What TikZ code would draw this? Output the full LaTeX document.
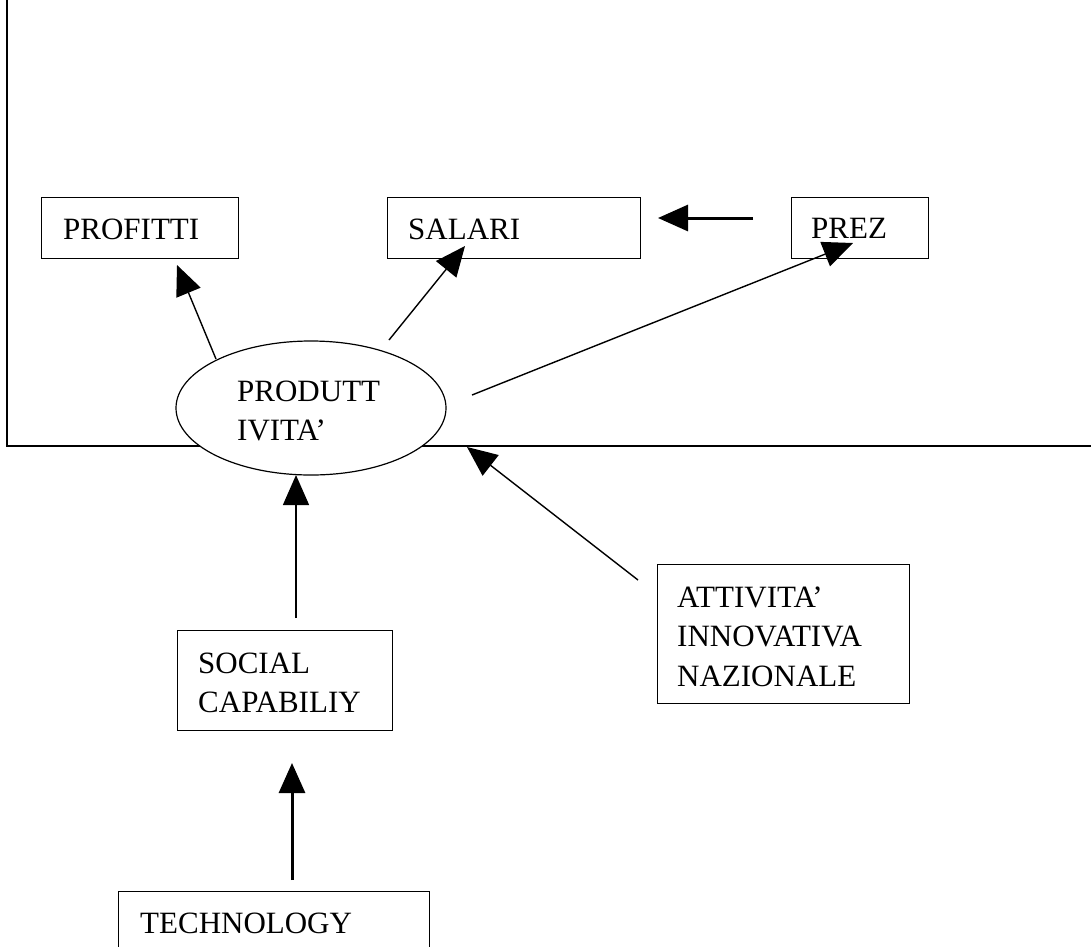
\documentclass[tikz,border=0pt]{standalone}
\usepackage{fontspec}
\setmainfont{Liberation Serif}
\usetikzlibrary{arrows.meta,shapes.geometric}
\begin{document}
\begin{tikzpicture}[x=1pt,y=-1pt,
  box/.style={draw, line width=1.2pt, anchor=north west, inner sep=0pt, rectangle},
  lbl/.style={anchor=base west, inner sep=0pt, font=\fontsize{31pt}{39.5pt}\selectfont},
  arr/.style={line width=1.4pt, -{Triangle[length=30pt,width=26pt]}},
  thickarr/.style={line width=3pt, -{Triangle[length=30pt,width=26pt]}},
  frame/.style={line width=2pt}]
\useasboundingbox (0,0) rectangle (1091,946);
% outer frame (only left and bottom sides visible)
\coordinate (ftop) at (7,-10);
\coordinate (fcorner) at (7,446);
\coordinate (fright) at (1100,446);
\draw[frame] (ftop) -- (fcorner) -- (fright);
% boxes
\node[box, minimum width=197pt, minimum height=61pt] (prof) at (41,197) {};
\node[box, minimum width=253pt, minimum height=61pt] (sal) at (387,197) {};
\node[box, minimum width=137pt, minimum height=61pt] (prez) at (791,197) {};
\node[box, minimum width=215pt, minimum height=100pt] (soc) at (177,630) {};
\node[box, minimum width=252pt, minimum height=139pt] (att) at (657,564) {};
\node[box, minimum width=311pt, minimum height=80pt] (tech) at (118,891) {};
% ellipse
\node[ellipse, draw, line width=1.2pt, fill=white, inner sep=0pt,
      minimum width=270pt, minimum height=134pt] (prod) at (311,408) {};
% labels
\node[lbl] (profT) at (63,239) {PROFITTI};
\node[lbl] (salT) at (408,239) {SALARI};
\node[lbl] (prodT) at (237,401) {\begin{tabular}[t]{@{}l@{}}PRODUTT\\IVITA’\end{tabular}};
\node[lbl] (socT) at (198,673) {\begin{tabular}[t]{@{}l@{}}SOCIAL\\CAPABILIY\end{tabular}};
\node[lbl] (attT) at (677,607) {\begin{tabular}[t]{@{}l@{}}ATTIVITA’\\INNOVATIVA\\NAZIONALE\end{tabular}};
\node[lbl] (techT) at (140,933) {TECHNOLOGY};
\node[lbl] (prezT) at (811,238) {PREZ};
% connector end points
\coordinate (pA) at (216,359);  \coordinate (profTip) at (177,265);
\coordinate (pB) at (389,340);  \coordinate (salTip) at (465,246);
\coordinate (pC) at (472,395);  \coordinate (prezTip) at (853,243);
\coordinate (zA) at (753,218);  \coordinate (salTip2) at (658,218);
\coordinate (aA) at (638,580);  \coordinate (prodTip1) at (467,447);
\coordinate (sA) at (296,618);  \coordinate (prodTip2) at (296,475);
\coordinate (tA) at (292,880);  \coordinate (socTip) at (292,763);
% connectors
\draw[arr] (pA) -- (profTip);
\draw[arr] (pB) -- (salTip);
\draw[arr] (pC) -- (prezTip);
\draw[thickarr] (zA) -- (salTip2);
\draw[arr] (aA) -- (prodTip1);
\draw[arr] (sA) -- (prodTip2);
\draw[thickarr] (tA) -- (socTip);
\end{tikzpicture}
\end{document}
